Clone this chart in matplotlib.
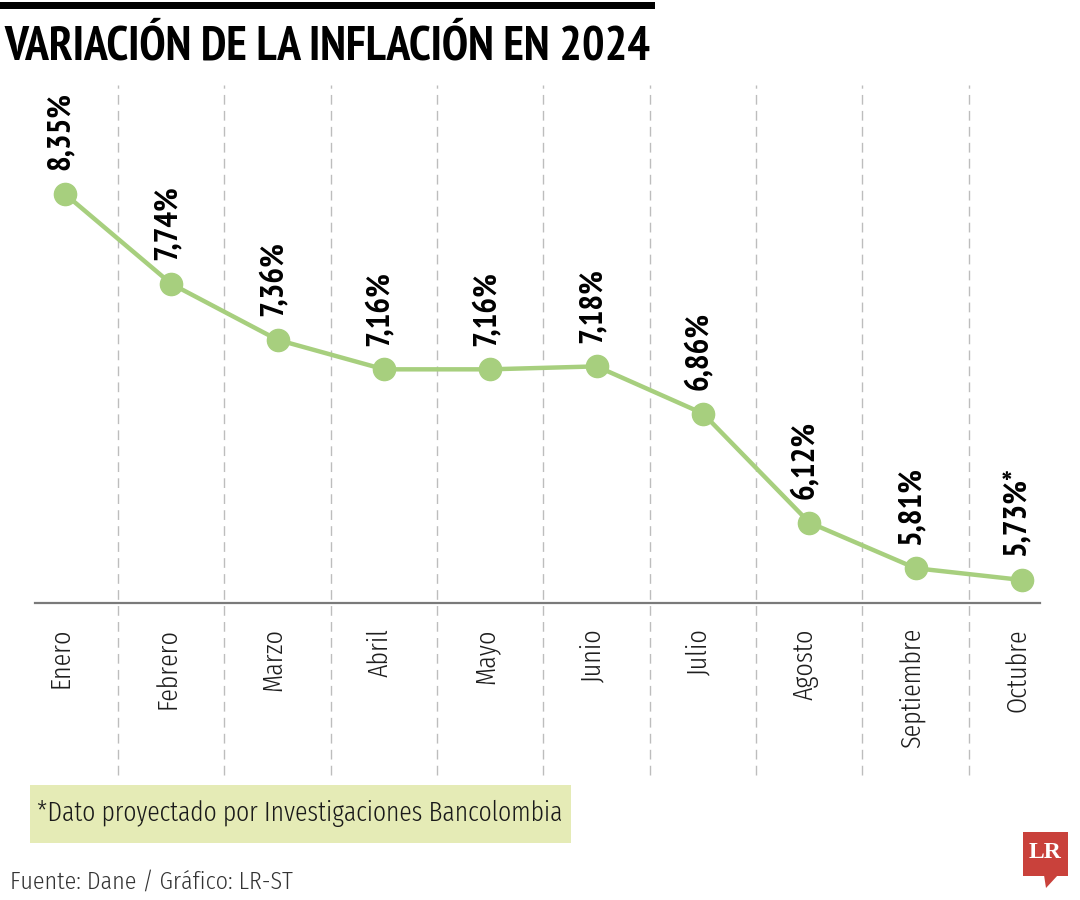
import matplotlib
matplotlib.use("Agg")
import matplotlib.pyplot as plt
from matplotlib.patches import Rectangle, Polygon

months = ['Enero', 'Febrero', 'Marzo', 'Abril', 'Mayo', 'Junio', 'Julio',
          'Agosto', 'Septiembre', 'Octubre']
values = [8.35, 7.74, 7.36, 7.16, 7.16, 7.18, 6.86, 6.12, 5.81, 5.73]
value_labels = ['8,35%', '7,74%', '7,36%', '7,16%', '7,16%', '7,18%', '6,86%',
                '6,12%', '5,81%', '5,73%*']
title = 'VARIACIÓN DE LA INFLACIÓN EN 2024'
note = '*Dato proyectado por Investigaciones Bancolombia'
source = 'Fuente: Dane / Gráfico: LR-ST'

BOLDF = ['PT Sans Narrow', 'DejaVu Sans']
LIGHTF = ['Fira Sans Extra Condensed', 'DejaVu Sans']
SRCF = ['Fira Sans Condensed', 'DejaVu Sans']

W, H = 1080, 900
fig = plt.figure(figsize=(W / 100, H / 100), dpi=100)
fig.patch.set_facecolor('white')
renderer = fig.canvas.get_renderer()


def fx(px):
    return px / W


def fy(py):
    return 1 - py / H


def size_for(text, width_px, **kw):
    t = fig.text(0, 0, text, fontsize=20, **kw)
    w = t.get_window_extent(renderer).width
    t.remove()
    return 20 * width_px / w


def fit(t, width_px):
    bb = t.get_window_extent(renderer)
    t.set_fontsize(t.get_fontsize() * width_px / bb.width)


GREEN = '#a7cf7e'

ax_left, ax_right, ax_top, ax_bottom = 35, 1040, 85, 603
ax = fig.add_axes([fx(ax_left), fy(ax_bottom), (ax_right - ax_left) / W,
                   (ax_bottom - ax_top) / H])
step = 106.33
x0 = 65
ax.set_xlim((ax_left - x0) / step, (ax_right - x0) / step)
ppu = 147.3
ybot = 5.73 - (ax_bottom - 580) / ppu
ytop = 8.35 + (194 - ax_top) / ppu
ax.set_ylim(ybot, ytop)
for s in ['top', 'right', 'left']:
    ax.spines[s].set_visible(False)
ax.spines['bottom'].set_color('#7a7a7a')
ax.spines['bottom'].set_linewidth(1.6)
ax.set_xticks([])
ax.set_yticks([])
ax.patch.set_alpha(0)

ext = (ax_bottom - 775) / (ax_bottom - ax_top)
for i in range(len(months) - 1):
    ax.axvline(i + 0.5, ymin=ext, ymax=1.0, color='#bdbdbd', lw=1.0,
               ls=(0, (7, 4.5)), clip_on=False, zorder=0)

xs = list(range(len(values)))
ax.plot(xs, values, color=GREEN, lw=3.2, zorder=3, solid_capstyle='round')
ax.plot(xs, values, 'o', color=GREEN, ms=16, mec=GREEN, zorder=4, clip_on=False)

vsize = size_for('8,35%', 78, family=BOLDF, fontweight='bold')
for x, v, lab in zip(xs, values, value_labels):
    ax.annotate(lab, (x, v), xytext=(-3, 17), textcoords='offset points',
                rotation=90, ha='center', va='bottom', fontsize=vsize,
                fontweight='bold', family=BOLDF, color='black')

msize = size_for('Septiembre', 120, family=LIGHTF, fontweight=300)
for x, m in zip(xs, months):
    ax.annotate(m, (x, ybot), xytext=(-3, -18), textcoords='offset points',
                rotation=90, ha='center', va='top', fontsize=msize,
                family=LIGHTF, fontweight=300, color='#1e1e1e',
                annotation_clip=False)

fig.add_artist(Rectangle((0, fy(9)), fx(655), 7 / H, transform=fig.transFigure,
                         color='black', lw=0))

tt = fig.text(fx(4), fy(47), title, fontsize=30, fontweight='bold', family=BOLDF,
              ha='left', va='center', color='black')
fit(tt, 648)

fig.add_artist(Rectangle((fx(30), fy(843)), fx(571) - fx(30), (843 - 785) / H,
                         transform=fig.transFigure, color='#e5ebb6', lw=0))
nt = fig.text(fx(37), fy(813), note, fontsize=20, family=LIGHTF, fontweight=300,
              ha='left', va='center', color='#1a1a1a')
fit(nt, 526)

st = fig.text(fx(10), fy(882), source, fontsize=15, family=SRCF, fontweight=300,
              ha='left', va='center', color='#333333')
fit(st, 283)

RED = '#c9413b'
fig.add_artist(Rectangle((fx(1023), fy(876)), fx(45), 44 / H,
                         transform=fig.transFigure, color=RED, lw=0))
fig.add_artist(Polygon([(fx(1044), fy(875)), (fx(1058), fy(875)), (fx(1046), fy(888))],
                       closed=True, transform=fig.transFigure, color=RED, lw=0))
fig.text(fx(1045.5), fy(853), 'LR', fontsize=17, fontweight='bold',
         family=['Liberation Serif', 'DejaVu Serif'], color='white',
         ha='center', va='center')

fig.savefig('out.png', dpi=100, facecolor='white')
